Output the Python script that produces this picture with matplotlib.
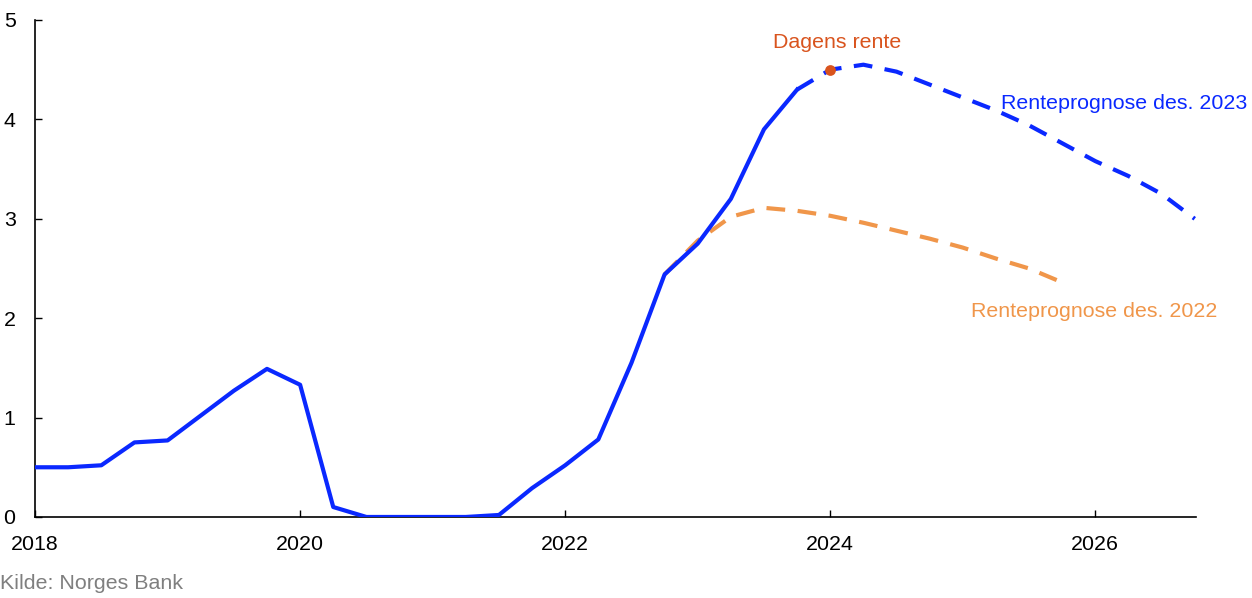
import matplotlib.pyplot as plt
import numpy as np

plt.rcParams['font.family'] = ['Liberation Sans', 'DejaVu Sans']

# styringsrente, kvartalsvis
hist_x = [2018.0, 2018.25, 2018.5, 2018.75, 2019.0, 2019.25, 2019.5, 2019.75,
          2020.0, 2020.25, 2020.5, 2020.75, 2021.0, 2021.25, 2021.5, 2021.75,
          2022.0, 2022.25, 2022.5, 2022.75, 2023.0, 2023.25, 2023.5, 2023.75]
hist_y = [0.50, 0.50, 0.52, 0.75, 0.77, 1.02, 1.27, 1.49,
          1.33, 0.10, 0.00, 0.00, 0.00, 0.00, 0.02, 0.29,
          0.52, 0.78, 1.55, 2.44, 2.75, 3.20, 3.90, 4.30]

# renteprognose des. 2023
p23_x = [2023.75, 2024.0, 2024.25, 2024.5, 2024.75, 2025.0, 2025.25, 2025.5,
         2025.75, 2026.0, 2026.25, 2026.5, 2026.75]
p23_y = [4.30, 4.50, 4.55, 4.48, 4.35, 4.22, 4.09, 3.94, 3.76, 3.58, 3.43, 3.25, 3.00]

# renteprognose des. 2022
p22_x = [2022.75, 2023.0, 2023.25, 2023.5, 2023.75, 2024.0, 2024.25, 2024.5,
         2024.75, 2025.0, 2025.25, 2025.5, 2025.75]
p22_y = [2.44, 2.78, 3.02, 3.11, 3.08, 3.03, 2.96, 2.88, 2.80, 2.71, 2.60, 2.50, 2.36]

dagens_x = 2024.0
dagens_y = 4.50

blue = '#0a28ff'
orange = '#f0964a'
red = '#d9541e'
fs = 15.4

fig = plt.figure(figsize=(12.52, 5.98), dpi=100)
ax = fig.add_axes([0.028, 0.1355, 0.9273, 0.8311])

ax.plot(hist_x, hist_y, color=blue, lw=3, zorder=3)
ax.plot(p23_x, p23_y, color=blue, lw=3, dashes=(4.5, 3), zorder=3)
ax.plot(p22_x, p22_y, color=orange, lw=3, dashes=(4.5, 3), zorder=2)
ax.scatter([dagens_x], [dagens_y], s=60, color=red, zorder=4, linewidths=0)

ax.text(2024.05, 4.77, 'Dagens rente', color=red, fontsize=fs, ha='center', va='center')
ax.text(2027.15, 4.16, 'Renteprognose des. 2023', color=blue, fontsize=fs,
        ha='right', va='center', clip_on=False)
ax.text(2026.92, 2.07, 'Renteprognose des. 2022', color=orange, fontsize=fs,
        ha='right', va='center', clip_on=False)

ax.set_xlim(2018, 2026.76)
ax.set_ylim(0, 5)
ax.set_xticks([2018, 2020, 2022, 2024, 2026])
ax.set_yticks([0, 1, 2, 3, 4, 5])
ax.tick_params(direction='in', length=5, width=1, labelsize=fs, colors='black')
ax.tick_params(axis='y', pad=14)
ax.tick_params(axis='x', pad=13)
for s in ['top', 'right']:
    ax.spines[s].set_visible(False)
for s in ['left', 'bottom']:
    ax.spines[s].set_linewidth(1.2)

fig.text(0.0, 0.008, 'Kilde: Norges Bank', color='#7f7f7f', fontsize=fs, ha='left', va='bottom')

fig.savefig('out.png', dpi=100)
